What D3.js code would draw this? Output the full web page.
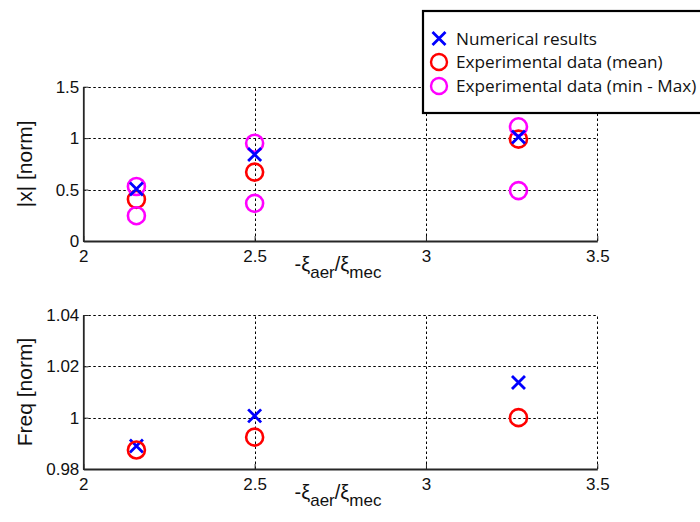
<!DOCTYPE html>
<html>
<head>
<meta charset="utf-8">
<script src="https://cdn.jsdelivr.net/npm/d3@7"></script>
<style>
  html, body { margin: 0; padding: 0; background: #fff; }
  svg { display: block; }
</style>
</head>
<body>
<svg id="chart" width="700" height="522"></svg>
<script>
// ---- data ----
const xValues = [2.155, 2.5, 3.27];
// top panel |x| [norm]
const ampNumerical = [0.505, 0.84, 1.01];
const ampExpMean   = [0.405, 0.67, 0.99];
const ampExpMax    = [0.53, 0.95, 1.11];
const ampExpMin    = [0.246, 0.366, 0.49];
// bottom panel Freq [norm]
const freqNumerical = [0.989, 1.0007, 1.0137];
const freqExpMean   = [0.9874, 0.9924, 1.0];
// ticks
const xTicks = [2, 2.5, 3, 3.5];
const xTickLabels = ["2", "2.5", "3", "3.5"];
const ampTicks = [0, 0.5, 1, 1.5];
const ampTickLabels = ["0", "0.5", "1", "1.5"];
const freqTicks = [0.98, 1.0, 1.02, 1.04];
const freqTickLabels = ["0.98", "1", "1.02", "1.04"];
const legendLabels = ["Numerical results", "Experimental data (mean)", "Experimental data (min - Max)"];

const BLUE = "#0000ff", RED = "#ff0000", MAG = "#ff00ff";
const svg = d3.select("#chart");

const x = d3.scaleLinear().domain([2, 3.5]).range([83.3, 597.3]);

function panel(yScale, yTicks, yTickLabels, yLabel) {
  const g = svg.append("g");
  const [y0, y1] = yScale.range();
  // grid
  const grid = g.append("g").attr("stroke", "#000").attr("stroke-width", 1).attr("stroke-dasharray", "2.5,2.5");
  grid.selectAll(".gy").data(yTicks).join("line")
    .attr("x1", x.range()[0]).attr("x2", x.range()[1])
    .attr("y1", d => Math.round(yScale(d)) + 0.5).attr("y2", d => Math.round(yScale(d)) + 0.5);
  grid.selectAll(".gx").data(xTicks).join("line")
    .attr("y1", y0).attr("y2", y1)
    .attr("x1", d => Math.round(x(d)) + 0.5).attr("x2", d => Math.round(x(d)) + 0.5);

  // axes
  const xAxis = d3.axisBottom(x).tickValues(xTicks).tickFormat((d, i) => xTickLabels[i]).tickSizeInner(-5).tickSizeOuter(0).tickPadding(9);
  const gx = g.append("g").attr("transform", `translate(0,${y0})`).call(xAxis);
  const yAxis = d3.axisLeft(yScale).tickValues(yTicks).tickFormat((d, i) => yTickLabels[i]).tickSizeInner(-5).tickSizeOuter(0).tickPadding(4);
  const gy = g.append("g").attr("transform", `translate(${x.range()[0]},0)`).call(yAxis);
  [gx, gy].forEach(a => {
    a.select(".domain").attr("stroke", "#262626").attr("stroke-width", 1.8);
    a.selectAll(".tick line").attr("stroke", "#262626").attr("stroke-width", 1);
    a.selectAll(".tick text").attr("font-family", "Liberation Sans, Arial, sans-serif").attr("font-size", 17).attr("fill", "#111");
  });

  // y label
  g.append("text")
    .attr("transform", `translate(32,${(y0 + y1) / 2}) rotate(-90)`)
    .attr("text-anchor", "middle")
    .attr("font-family", "Liberation Sans, Arial, sans-serif")
    .attr("font-size", 21).attr("fill", "#111")
    .text(yLabel);

  // x label
  const xl = g.append("text")
    .attr("x", 338).attr("y", y0 + 30)
    .attr("text-anchor", "middle")
    .attr("font-family", "Liberation Sans, Arial, sans-serif")
    .attr("font-size", 20).attr("fill", "#111");
  xl.append("tspan").text("-ξ");
  xl.append("tspan").attr("dy", 7).attr("font-size", 17).text("aer");
  xl.append("tspan").attr("dy", -7).text("/ξ");
  xl.append("tspan").attr("dy", 7).attr("font-size", 17).text("mec");
  return g;
}

function circles(g, xs, ys, yScale, color) {
  g.append("g").selectAll("circle").data(xs).join("circle")
    .attr("cx", d => x(d)).attr("cy", (d, i) => yScale(ys[i]))
    .attr("r", 8.5).attr("fill", "none").attr("stroke", color).attr("stroke-width", 2.6);
}
function crosses(g, xs, ys, yScale, color) {
  const s = 6.5;
  g.append("g").selectAll("path").data(xs).join("path")
    .attr("d", (d, i) => {
      const cx = x(d), cy = yScale(ys[i]);
      return `M${cx - s},${cy - s}L${cx + s},${cy + s}M${cx - s},${cy + s}L${cx + s},${cy - s}`;
    })
    .attr("fill", "none").attr("stroke", color).attr("stroke-width", 2.8);
}

// top panel
const yAmp = d3.scaleLinear().domain([0, 1.5]).range([241, 86.7]);
const gTop = panel(yAmp, ampTicks, ampTickLabels, "|x| [norm]");
circles(gTop, xValues, ampExpMean, yAmp, RED);
circles(gTop, xValues, ampExpMax, yAmp, MAG);
circles(gTop, xValues, ampExpMin, yAmp, MAG);
crosses(gTop, xValues, ampNumerical, yAmp, BLUE);

// bottom panel
const yFreq = d3.scaleLinear().domain([0.98, 1.04]).range([469, 315]);
const gBot = panel(yFreq, freqTicks, freqTickLabels, "Freq [norm]");
crosses(gBot, xValues, freqNumerical, yFreq, BLUE);
circles(gBot, xValues, freqExpMean, yFreq, RED);

// legend
const lg = svg.append("g");
lg.append("rect").attr("x", 423).attr("y", 11).attr("width", 290).attr("height", 102)
  .attr("fill", "#fff").attr("stroke", "#000").attr("stroke-width", 2.2);
const rowsY = [38.5, 62, 86];
const lx = 439;
{
  const s = 6.5, cy = rowsY[0];
  lg.append("path").attr("d", `M${lx - s},${cy - s}L${lx + s},${cy + s}M${lx - s},${cy + s}L${lx + s},${cy - s}`)
    .attr("stroke", BLUE).attr("stroke-width", 2.8).attr("fill", "none");
}
lg.append("circle").attr("cx", lx).attr("cy", rowsY[1]).attr("r", 8).attr("fill", "none").attr("stroke", RED).attr("stroke-width", 2.4);
lg.append("circle").attr("cx", lx).attr("cy", rowsY[2]).attr("r", 8).attr("fill", "none").attr("stroke", MAG).attr("stroke-width", 2.4);
lg.selectAll(".lt").data(legendLabels).join("text")
  .attr("x", 456).attr("y", (d, i) => rowsY[i] + 6)
  .attr("font-family", "Open Sans, sans-serif").attr("font-size", 17.2).attr("fill", "#111")
  .text(d => d);
</script>
</body>
</html>
